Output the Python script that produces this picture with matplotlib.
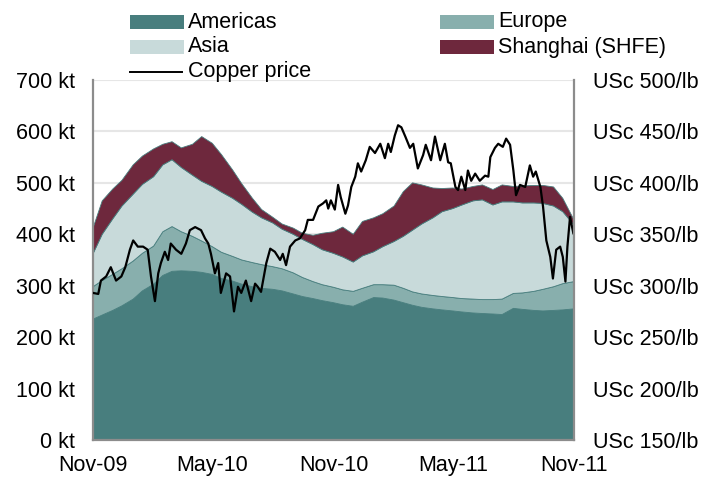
import numpy as np
import pandas as pd
import matplotlib
matplotlib.use("Agg")
import matplotlib.pyplot as plt
from matplotlib.patches import Rectangle
from matplotlib.lines import Line2D

plt.rcParams['font.family'] = ['Liberation Sans', 'DejaVu Sans']

# ---------------- data ----------------
start_date = "2009-11-01"
n_points = 49  # semi-monthly observations, Nov-09 .. Nov-11

series_names = ["Americas", "Europe", "Asia", "Shanghai (SHFE)"]

# cumulative boundaries (kt), converted to components below
americas = [235, 243, 252, 261, 274, 290, 303, 320, 328, 329, 328, 326, 322, 314, 309, 303,
            298, 295, 293, 290, 284, 279, 275, 271, 267, 263, 260, 268, 277, 276, 272, 267,
            262, 258, 255, 253, 251, 249, 247, 246, 245, 244, 256, 254, 252, 251, 252, 253, 255]
europe_top = [298, 310, 322, 333, 348, 363, 377, 405, 415, 405, 396, 387, 376, 365, 357, 350,
              345, 341, 337, 333, 325, 316, 308, 302, 297, 292, 289, 295, 302, 302, 301, 295,
              288, 284, 281, 279, 277, 275, 274, 273, 273, 274, 285, 286, 289, 293, 298, 304, 308]
asia_top = [362, 400, 430, 455, 478, 497, 512, 535, 545, 530, 515, 503, 493, 482, 470, 458,
            443, 432, 422, 410, 400, 390, 380, 370, 363, 356, 346, 358, 366, 376, 386, 396,
            408, 420, 432, 444, 450, 457, 465, 467, 457, 463, 463, 461, 461, 460, 455, 444, 418]
total_top = [412, 465, 488, 505, 535, 552, 566, 575, 580, 568, 575, 590, 577, 555, 525, 498,
             470, 448, 433, 420, 412, 402, 398, 402, 405, 414, 400, 425, 432, 440, 455, 483,
             500, 496, 490, 489, 490, 488, 493, 496, 487, 496, 493, 494, 495, 495, 492, 470, 428]

europe = list(np.array(europe_top) - np.array(americas))
asia = list(np.array(asia_top) - np.array(europe_top))
shanghai = list(np.array(total_top) - np.array(asia_top))

# copper price (USc/lb), days since 1 Nov 2009
price_days = [0, 8, 12, 20, 27, 35, 43, 49, 56, 61, 68, 76, 83, 88, 94, 99, 103, 109, 114, 118,
              126, 134, 141, 147, 155, 164, 170, 175, 179, 185, 190, 194, 202, 208, 214, 220,
              225, 232, 240, 246, 250, 255, 263, 269, 276, 284, 288, 293, 299, 307, 314, 322,
              326, 334, 342, 349, 354, 357, 361, 367, 372, 376, 383, 387, 392, 398, 402, 407,
              414, 420, 428, 436, 443, 448, 452, 458, 463, 468, 474, 481, 486, 493, 501, 505,
              513, 519, 527, 534, 539, 543, 550, 554, 559, 565, 569, 574, 580, 587, 595, 600,
              603, 610, 615, 622, 627, 633, 638, 642, 648, 656, 663, 668, 672, 679, 683, 688,
              694, 698, 703, 709, 713, 717, 720, 724, 729]
price_usc = [293, 292, 305, 309, 318, 305, 309, 318, 335, 344, 338, 338, 335, 309, 285, 312, 322,
             333, 325, 341, 335, 331, 341, 354, 357, 354, 346, 341, 331, 312, 322, 293, 312, 309,
             275, 299, 293, 305, 285, 302, 299, 294, 322, 336, 333, 325, 331, 320, 338, 344, 346,
             354, 364, 364, 377, 380, 383, 375, 383, 374, 398, 386, 370, 378, 396, 406, 419, 411,
             422, 435, 429, 438, 424, 438, 430, 446, 456, 454, 445, 434, 438, 414, 427, 437, 422,
             445, 422, 438, 420, 419, 396, 393, 406, 393, 412, 402, 409, 402, 407, 406, 425, 434,
             438, 435, 443, 437, 412, 388, 398, 396, 417, 406, 411, 396, 377, 344, 328, 307, 335,
             338, 328, 304, 338, 367, 351]

left_ticks = [0, 100, 200, 300, 400, 500, 600, 700]
right_ticks = [150, 200, 250, 300, 350, 400, 450, 500]
x_tick_labels = ["Nov-09", "May-10", "Nov-10", "May-11", "Nov-11"]

colors = ["#487E7E", "#88AFAD", "#C8DADA", "#6E283D"]

# ---------------- figure ----------------
W, H = 713, 479
fig = plt.figure(figsize=(W / 100, H / 100), dpi=100)
ax = fig.add_axes([93 / W, (H - 440) / H, (574 - 93) / W, (440 - 80) / H])

t0 = pd.Timestamp(start_date)
dates = pd.date_range(start_date, periods=n_points, freq="SMS")
pdates = t0 + pd.to_timedelta(price_days, unit="D")

ax.stackplot(dates, americas, europe, asia, shanghai, colors=colors,
             labels=series_names, linewidth=0.6, edgecolors=colors)
ax.set_ylim(0, 700)
ax.set_xlim(t0, t0 + pd.Timedelta(days=730))
ax.set_yticks(left_ticks)
ax.set_yticklabels([f"{v} kt" for v in left_ticks])
ax.set_axisbelow(True)
ax.yaxis.grid(True, color="#e6e6e6", linewidth=1.5)

xt = pd.to_datetime(["2009-11-01", "2010-05-01", "2010-11-01", "2011-05-01", "2011-11-01"])
ax.set_xticks(xt)
ax.set_xticklabels(x_tick_labels)
ax.tick_params(axis="both", length=0, labelsize=15.5, colors="black")
ax.tick_params(axis="y", pad=13)
ax.tick_params(axis="x", pad=11)
for s in ["top", "right"]:
    ax.spines[s].set_visible(False)
for s in ["left", "bottom"]:
    ax.spines[s].set_color("#8c8c8c")
    ax.spines[s].set_linewidth(1.6)

ax2 = ax.twinx()
ax2.plot(pdates, price_usc, color="black", linewidth=1.6, label="Copper price")
ax2.set_ylim(150, 500)
ax2.set_yticks(right_ticks)
ax2.set_yticklabels([f"USc {v}/lb" for v in right_ticks])
ax2.tick_params(axis="y", length=0, labelsize=15.5, pad=14)
for s in ["top", "left", "bottom"]:
    ax2.spines[s].set_visible(False)
ax2.spines["right"].set_color("#8c8c8c")
ax2.spines["right"].set_linewidth(1.6)
ax2.set_xlim(t0, t0 + pd.Timedelta(days=730))

# ---------------- legend (manual, figure pixel layout) ----------------
def fx(px):
    return px / W

def fy(py):
    return 1 - py / H

legend_items = [
    ("patch", colors[0], series_names[0], 130, 22),
    ("patch", colors[2], series_names[2], 130, 47),
    ("line", "black", "Copper price", 130, 72),
    ("patch", colors[1], series_names[1], 440, 22),
    ("patch", colors[3], series_names[3], 440, 47),
]
for kind, c, lab, x0, yc in legend_items:
    if kind == "patch":
        fig.add_artist(Rectangle((fx(x0), fy(yc + 7)), fx(54), 14 / H,
                                 transform=fig.transFigure, facecolor=c, edgecolor="none"))
    else:
        fig.add_artist(Line2D([fx(x0), fx(x0 + 52)], [fy(yc), fy(yc)],
                              transform=fig.transFigure, color=c, linewidth=1.4))
    fig.text(fx(x0 + 58), fy(yc), lab, fontsize=15.5, va="center", ha="left")

fig.savefig("out.png", dpi=100)
